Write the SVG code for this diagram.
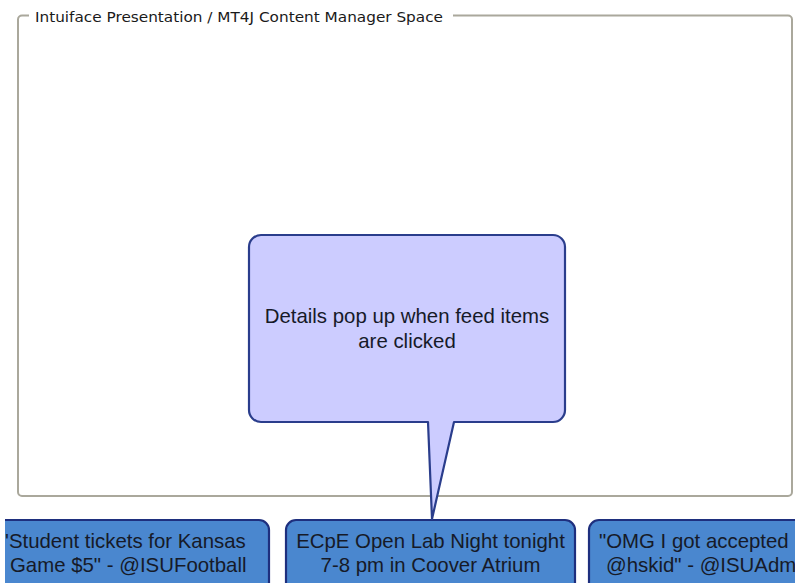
<svg xmlns="http://www.w3.org/2000/svg" width="797" height="583" viewBox="0 0 797 583">
  <style>
    .frame { fill: none; stroke: #aaa89c; stroke-width: 2; }
    .frame-label { font-family: "DejaVu Sans", Verdana, sans-serif; font-size: 13.5px; fill: #1a1a1a; }
    .callout { fill: #ccccff; stroke: #2a3d8c; stroke-width: 2.2; stroke-linejoin: round; }
    .item { fill: #4a87cf; stroke: #1e2f7e; stroke-width: 2.2; }
    .t { font-family: "Liberation Sans", Arial, sans-serif; font-size: 20.4px; fill: #161a28; }
  </style>
  <defs>
    <clipPath id="row-clip">
      <rect x="5" y="500" width="790" height="83"/>
    </clipPath>
  </defs>

  <rect x="0" y="0" width="797" height="583" fill="#ffffff"/>

  <!-- content manager space group box -->
  <g id="space">
    <path class="frame" d="M 29,15.5 H 22 A 4,4 0 0 0 18,19.5 V 492 A 4,4 0 0 0 22,496 H 788 A 4,4 0 0 0 792,492 V 19.5 A 4,4 0 0 0 788,15.5 H 453"/>
    <text class="frame-label" x="35" y="21.5" textLength="408" lengthAdjust="spacingAndGlyphs">Intuiface Presentation / MT4J Content Manager Space</text>
  </g>

  <!-- feed items along the bottom -->
  <g clip-path="url(#row-clip)">
    <g id="item-football">
      <rect class="item" x="-30" y="520" width="299" height="90" rx="10"/>
      <text class="t" x="5" y="548">'Student tickets for Kansas</text>
      <text class="t" x="10" y="572">Game $5" - @ISUFootball</text>
    </g>
    <g id="item-ecpe">
      <rect class="item" x="286" y="520" width="289" height="90" rx="10"/>
      <text class="t" x="430.5" y="548" text-anchor="middle">ECpE Open Lab Night tonight</text>
      <text class="t" x="430.5" y="572" text-anchor="middle">7-8 pm in Coover Atrium</text>
    </g>
    <g id="item-admissions">
      <rect class="item" x="589" y="520" width="300" height="90" rx="10"/>
      <text class="t" x="599" y="548">"OMG I got accepted</text>
      <text class="t" x="606" y="572">@hskid" - @ISUAdm</text>
    </g>
  </g>

  <!-- details callout pointing at the clicked item -->
  <g id="details-callout">
    <path class="callout" d="M 261,235 H 553 A 12,12 0 0 1 565,247 V 410 A 12,12 0 0 1 553,422 H 454 L 432,519 L 428,422 H 261 A 12,12 0 0 1 249,410 V 247 A 12,12 0 0 1 261,235 Z"/>
    <text class="t" x="407" y="323" text-anchor="middle">Details pop up when feed items</text>
    <text class="t" x="407" y="348" text-anchor="middle">are clicked</text>
  </g>

  <g id="connectors"/>
</svg>
